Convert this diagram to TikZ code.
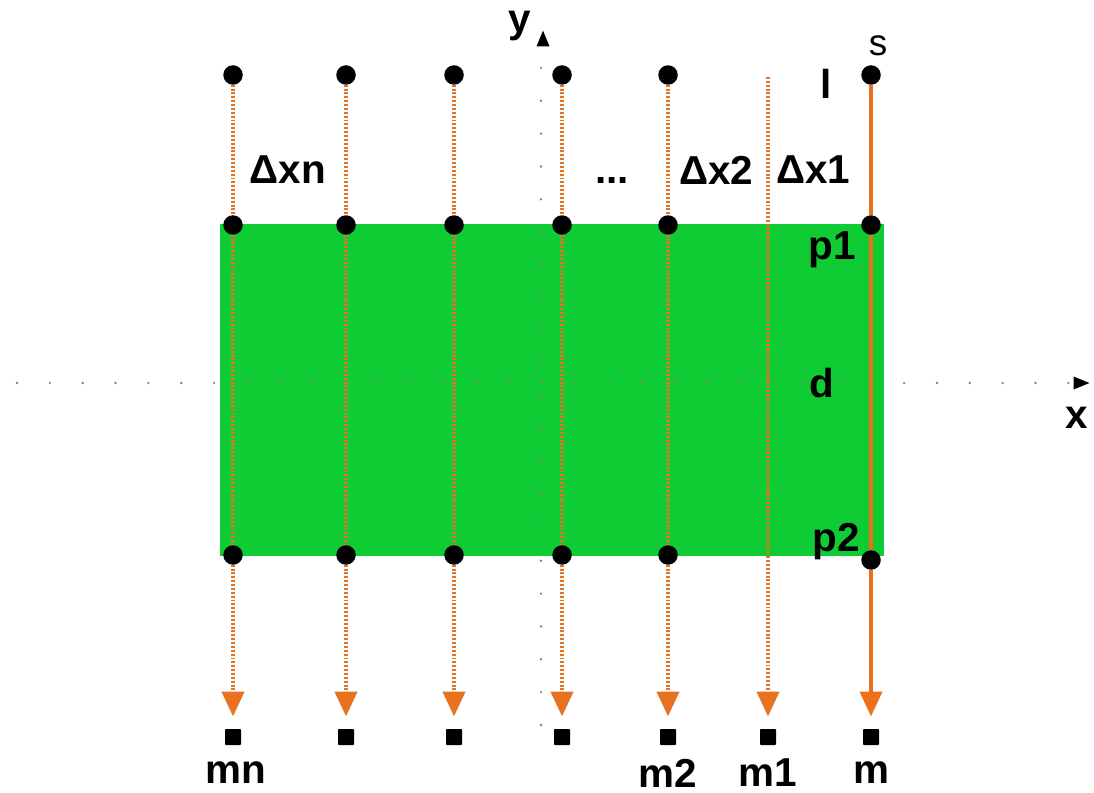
\documentclass[tikz,border=0pt]{standalone}
\usepackage{fontspec}
\setmainfont{Liberation Sans}
\usepackage{tikz}
\usetikzlibrary{arrows.meta,shapes.geometric}

\definecolor{sheet}{RGB}{16,204,52}
\definecolor{ray}{RGB}{238,112,28}

\begin{document}
\begin{tikzpicture}[
  x=0.02cm, y=-0.02cm,
  font=\fontsize{23}{27}\selectfont\bfseries,
  pt/.style={circle, fill=black, inner sep=0pt, minimum size=3.9mm, outer sep=0pt},
  det/.style={fill=black, rounded corners=0.5pt, inner sep=0pt, minimum size=3.2mm, outer sep=2.5mm},
  rayd/.style={draw=ray!80!brown, line width=2.4pt, dash pattern=on 1.1pt off 1.1pt},
  rays/.style={draw=ray, line width=2.2pt},
  tip/.style={-{Triangle[length=5mm, width=4.4mm, fill=ray]}},
  axis/.style={draw=black!50, line width=1.5pt, line cap=round, dash pattern=on 0pt off 18.7pt},
  head/.style={fill=black, isosceles triangle, inner sep=0pt, minimum height=3mm, minimum width=2.6mm},
  lab/.style={inner sep=1pt}
]
\useasboundingbox (0,0) rectangle (1094,793);

% ---------- plate ----------
\fill[sheet] (220,224) rectangle (884,556);

% ---------- axes ----------
\coordinate (xa) at (17,383);
\coordinate (xb) at (1072,383);
\coordinate (ya) at (541,725);
\coordinate (yb) at (541,56);
\draw[axis] (xa) -- (xb);
\draw[axis] (ya) -- (yb);
\node[head] (xh) at (1078,383) {};
\node[head, shape border rotate=90] (yh) at (543,42) {};
\node[lab] (xl) at (1077,418) {x};
\node[lab] (yl) at (520,26) {y};

% ---------- source row ----------
\node[pt] (l1) at (233,75) {};
\node[pt] (l2) at (346,75) {};
\node[pt] (l3) at (454,75) {};
\node[pt] (l4) at (562,75) {};
\node[pt] (l5) at (668,75) {};
\node[pt] (l0) at (871,75) {};
\coordinate (l6) at (768,77);

% ---------- p1 row ----------
\node[pt] (a1) at (233,225) {};
\node[pt] (a2) at (346,225) {};
\node[pt] (a3) at (454,225) {};
\node[pt] (a4) at (562,225) {};
\node[pt] (a5) at (668,225) {};
\node[pt] (a0) at (871,225) {};

% ---------- p2 row ----------
\node[pt] (b1) at (233,555) {};
\node[pt] (b2) at (346,555) {};
\node[pt] (b3) at (454,555) {};
\node[pt] (b4) at (562,555) {};
\node[pt] (b5) at (668,555) {};
\node[pt] (b0) at (871,560) {};

% ---------- detectors ----------
\node[det] (m1) at (233,737) {};
\node[det] (m2) at (346,737) {};
\node[det] (m3) at (454,737) {};
\node[det] (m4) at (562,737) {};
\node[det] (m5) at (668,737) {};
\node[det] (m6) at (768,737) {};
\node[det] (m0) at (871,737) {};

% ---------- rays ----------
\draw[rayd] (l1) -- (a1) -- (b1);
\draw[rayd] (l2) -- (a2) -- (b2);
\draw[rayd] (l3) -- (a3) -- (b3);
\draw[rayd] (l4) -- (a4) -- (b4);
\draw[rayd] (l5) -- (a5) -- (b5);
\draw[rayd, tip] (b1) -- (m1);
\draw[rayd, tip] (b2) -- (m2);
\draw[rayd, tip] (b3) -- (m3);
\draw[rayd, tip] (b4) -- (m4);
\draw[rayd, tip] (b5) -- (m5);
\draw[rayd, tip] (l6) -- (m6);
\draw[rays] (l0) -- (a0) -- (b0);
\draw[rays, tip] (b0) -- (m0);

% ---------- labels ----------
\node[lab, font=\fontsize{21}{24}\selectfont] (sl) at (878,46) {s};
\node[lab] (ll) at (826,84) {l};
\node[lab] (dn) at (288,170) {Δxn};
\node[lab] (dd) at (612,180) {...};
\node[lab] (d2) at (716,170) {Δx2};
\node[lab] (d1) at (813,170) {Δx1};
\node[lab] (p1) at (832,250) {p1};
\node[lab] (dl) at (822,383) {d};
\node[lab] (p2) at (836,542) {p2};
\node[lab] (tn) at (236,773) {mn};
\node[lab] (t2) at (668,773) {m2};
\node[lab] (t1) at (768,773) {m1};
\node[lab] (t0) at (871,773) {m};

\end{tikzpicture}
\end{document}
